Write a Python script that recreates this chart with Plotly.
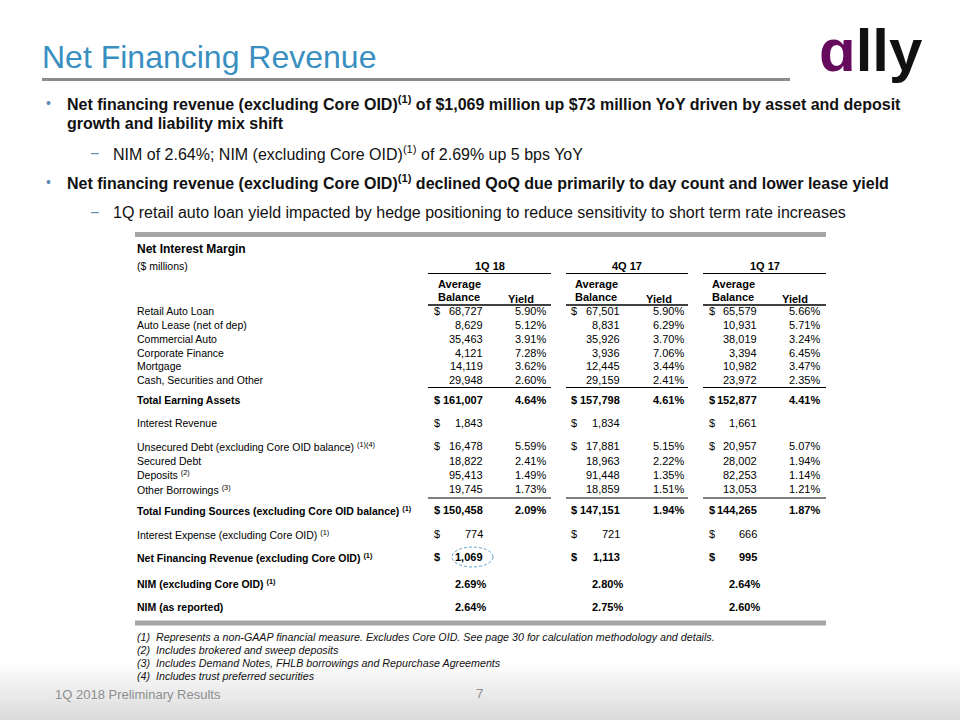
import plotly.graph_objects as go
import numpy as np

FONT = "Liberation Sans, Arial, sans-serif"

# ---------------- data ----------------
periods = ["1Q 18", "4Q 17", "1Q 17"]

asset_labels = ["Retail Auto Loan", "Auto Lease (net of dep)", "Commercial Auto",
                "Corporate Finance", "Mortgage", "Cash, Securities and Other"]
asset_bal_1q18 = [68727, 8629, 35463, 4121, 14119, 29948]
asset_bal_4q17 = [67501, 8831, 35926, 3936, 12445, 29159]
asset_bal_1q17 = [65579, 10931, 38019, 3394, 10982, 23972]
asset_yld_1q18 = [5.90, 5.12, 3.91, 7.28, 3.62, 2.60]
asset_yld_4q17 = [5.90, 6.29, 3.70, 7.06, 3.44, 2.41]
asset_yld_1q17 = [5.66, 5.71, 3.24, 6.45, 3.47, 2.35]

total_assets = [161007, 157798, 152877]
total_assets_yld = [4.64, 4.61, 4.41]
interest_revenue = [1843, 1834, 1661]

liab_labels = ["Unsecured Debt (excluding Core OID balance) <sup>(1)(4)</sup>",
               "Secured Debt", "Deposits <sup>(2)</sup>", "Other Borrowings <sup>(3)</sup>"]
liab_bal_1q18 = [16478, 18822, 95413, 19745]
liab_bal_4q17 = [17881, 18963, 91448, 18859]
liab_bal_1q17 = [20957, 28002, 82253, 13053]
liab_yld_1q18 = [5.59, 2.41, 1.49, 1.73]
liab_yld_4q17 = [5.15, 2.22, 1.35, 1.51]
liab_yld_1q17 = [5.07, 1.94, 1.14, 1.21]

total_funding = [150458, 147151, 144265]
total_funding_yld = [2.09, 1.94, 1.87]
interest_expense = [774, 721, 666]
net_fin_rev = [1069, 1113, 995]
nim_ex_core = [2.69, 2.80, 2.64]
nim_reported = [2.64, 2.75, 2.60]

asset_bal = [asset_bal_1q18, asset_bal_4q17, asset_bal_1q17]
asset_yld = [asset_yld_1q18, asset_yld_4q17, asset_yld_1q17]
liab_bal = [liab_bal_1q18, liab_bal_4q17, liab_bal_1q17]
liab_yld = [liab_yld_1q18, liab_yld_4q17, liab_yld_1q17]

title = "Net Financing Revenue"
bullets = [
    ("b", "Net financing revenue (excluding Core OID)<sup>(1)</sup> of $1,069 million up $73 million YoY driven by asset and deposit"),
    ("c", "growth and liability mix shift"),
    ("s", "NIM of 2.64%; NIM (excluding Core OID)<sup>(1)</sup> of 2.69% up 5 bps YoY"),
    ("b", "Net financing revenue (excluding Core OID)<sup>(1)</sup> declined QoQ due primarily to day count and lower lease yield"),
    ("s", "1Q retail auto loan yield impacted by hedge positioning to reduce sensitivity to short term rate increases"),
]
footnotes = [
    "(1)  Represents a non-GAAP financial measure. Excludes Core OID. See page 30 for calculation methodology and details.",
    "(2)  Includes brokered and sweep deposits",
    "(3)  Includes Demand Notes, FHLB borrowings and Repurchase Agreements",
    "(4)  Includes trust preferred securities",
]
footer_left = "1Q 2018 Preliminary Results"
page_no = "7"

# ---------------- layout geometry ----------------
dollar_x = [432, 569, 707]
bal_right = [485, 622, 759]
yld_right = [548, 686, 822]
hdr_line = [(428, 551), (566, 688), (703, 826)]
label_x = 137
TS = 11      # numbers
LS = 10.5    # row labels

ann = []
shapes = []


def txt(x, y, s, size=TS, anchor="left", color="#000000", bold=False, italic=False, family=FONT):
    if bold:
        s = "<b>" + s + "</b>"
    if italic:
        s = "<i>" + s + "</i>"
    ann.append(dict(x=x, y=y, xref="x", yref="y", text=s, showarrow=False,
                    xanchor=anchor, yanchor="middle",
                    font=dict(family=family, size=size, color=color)))


def hline(x0, x1, y, color="#000000", width=1):
    shapes.append(dict(type="line", xref="x", yref="y", x0=x0, x1=x1, y0=y, y1=y,
                       line=dict(color=color, width=width)))


# bottom gradient band
grad_y = np.linspace(660, 720, 30)
for k in range(len(grad_y) - 1):
    t = k / (len(grad_y) - 2)
    g = int(round(255 - t * 36))
    shapes.append(dict(type="rect", xref="x", yref="y", x0=0, x1=960,
                       y0=grad_y[k], y1=grad_y[k + 1] + 0.5,
                       fillcolor=f"rgb({g},{g},{g})", line=dict(width=0), layer="below"))

# title + rule
txt(40, 57, title, size=32, color="#3A8FC1")
hline(42, 790, 79.5, color="#8C8C8C", width=3)

# logo
ann.append(dict(x=871, y=50, xref="x", yref="y", showarrow=False, xanchor="center", yanchor="middle",
                text="<b><span style='color:#650A5D'>ɑ</span>lly</b>",
                font=dict(family="Liberation Sans, Arial, sans-serif", size=60, color="#111111")))

# bullets
bullet_y = [103, 123.5, 153, 182, 212]
for (kind, s), y in zip(bullets, bullet_y):
    if kind == "b":
        txt(44, y, "•", size=14, color="#5B8DB8")
        txt(65, y, s, size=16, bold=True, color="#111111")
    elif kind == "c":
        txt(65, y, s, size=16, bold=True, color="#111111")
    else:
        txt(88, y, "−", size=16, color="#5B8DB8")
        txt(111, y, s, size=16, color="#111111")

# table frame bars
shapes.append(dict(type="rect", xref="x", yref="y", x0=135, x1=826, y0=232, y1=237,
                   fillcolor="#A6A6A6", line=dict(width=0)))
shapes.append(dict(type="rect", xref="x", yref="y", x0=135, x1=826, y0=620.5, y1=625.5,
                   fillcolor="#A6A6A6", line=dict(width=0)))

txt(label_x - 2, 249, "Net Interest Margin", size=12, bold=True)
txt(label_x - 2, 265.5, "($ millions)", size=LS)

# column headers
for i, p in enumerate(periods):
    x0, x1 = hdr_line[i]
    txt((x0 + x1) / 2, 265.5, p, bold=True, anchor="center")
    hline(x0, x1, 273.5, width=1)
    txt(bal_right[i] - 26, 283.5, "Average", bold=True, anchor="center")
    txt(bal_right[i] - 26, 297, "Balance", bold=True, anchor="center")
    txt(yld_right[i] - 27, 298.5, "Yield", bold=True, anchor="center")
    hline(x0, x1, 305, width=1.3)


def money(v):
    return f"{v:,}"


def pct(v):
    return f"{v:.2f}%"


lx = label_x - 2

# asset rows
asset_y = [311, 325, 338.7, 352.5, 366.2, 380]
for r, lab in enumerate(asset_labels):
    txt(lx, asset_y[r], lab, size=LS)
    for i in range(3):
        if r == 0:
            txt(dollar_x[i], asset_y[r], "$")
        txt(bal_right[i], asset_y[r], money(asset_bal[i][r]), anchor="right")
        txt(yld_right[i], asset_y[r], pct(asset_yld[i][r]), anchor="right")
for i in range(3):
    hline(hdr_line[i][0], hdr_line[i][1], 387.5, width=1)

y_tot_a = 400
txt(lx, y_tot_a, "Total Earning Assets", size=LS, bold=True)
for i in range(3):
    txt(dollar_x[i], y_tot_a, "$", bold=True)
    txt(bal_right[i], y_tot_a, money(total_assets[i]), anchor="right", bold=True)
    txt(yld_right[i], y_tot_a, pct(total_assets_yld[i]), anchor="right", bold=True)

y_ir = 423
txt(lx, y_ir, "Interest Revenue", size=LS)
for i in range(3):
    txt(dollar_x[i], y_ir, "$")
    txt(bal_right[i], y_ir, money(interest_revenue[i]), anchor="right")

liab_y = [446, 460.5, 474.8, 489]
for r, lab in enumerate(liab_labels):
    txt(lx, liab_y[r], lab, size=LS)
    for i in range(3):
        if r == 0:
            txt(dollar_x[i], liab_y[r], "$")
        txt(bal_right[i], liab_y[r], money(liab_bal[i][r]), anchor="right")
        txt(yld_right[i], liab_y[r], pct(liab_yld[i][r]), anchor="right")
for i in range(3):
    hline(hdr_line[i][0], hdr_line[i][1], 498, width=1)

y_tf = 510
txt(lx, y_tf, "Total Funding Sources (excluding Core OID balance) <sup>(1)</sup>", size=LS, bold=True)
for i in range(3):
    txt(dollar_x[i], y_tf, "$", bold=True)
    txt(bal_right[i], y_tf, money(total_funding[i]), anchor="right", bold=True)
    txt(yld_right[i], y_tf, pct(total_funding_yld[i]), anchor="right", bold=True)

y_ie = 534
txt(lx, y_ie, "Interest Expense (excluding Core OID) <sup>(1)</sup>", size=LS)
for i in range(3):
    txt(dollar_x[i], y_ie, "$")
    txt(bal_right[i], y_ie, money(interest_expense[i]), anchor="right")

y_nfr = 557
txt(lx, y_nfr, "Net Financing Revenue (excluding Core OID) <sup>(1)</sup>", size=LS, bold=True)
for i in range(3):
    txt(dollar_x[i], y_nfr, "$", bold=True)
    txt(bal_right[i], y_nfr, money(net_fin_rev[i]), anchor="right", bold=True)

# dashed highlight around current-quarter net financing revenue
shapes.append(dict(type="circle", xref="x", yref="y",
                   x0=bal_right[0] - 33, x1=bal_right[0] + 8, y0=y_nfr - 10, y1=y_nfr + 10,
                   line=dict(color="#5AA0CC", width=1, dash="3px,2px")))

y_nim1 = 583.5
txt(lx, y_nim1, "NIM (excluding Core OID) <sup>(1)</sup>", size=LS, bold=True)
y_nim2 = 607
txt(lx, y_nim2, "NIM (as reported)", size=LS, bold=True)
for i in range(3):
    txt(bal_right[i] + 3, y_nim1, pct(nim_ex_core[i]), anchor="right", bold=True)
    txt(bal_right[i] + 3, y_nim2, pct(nim_reported[i]), anchor="right", bold=True)

# footnotes
foot_y = [637, 650, 663, 676]
for s, y in zip(footnotes, foot_y):
    txt(135, y, s, size=10.7, italic=True, color="#111111")

txt(53, 694, footer_left, size=13, color="#8E8E8E")
txt(480, 693, page_no, size=13.5, color="#8E8E8E", anchor="center")

fig = go.Figure()
fig.update_layout(
    width=960, height=720,
    margin=dict(l=0, r=0, t=0, b=0),
    paper_bgcolor="white", plot_bgcolor="white",
    xaxis=dict(range=[0, 960], visible=False, fixedrange=True),
    yaxis=dict(range=[720, 0], visible=False, fixedrange=True),
    annotations=ann, shapes=shapes, showlegend=False,
)
fig.write_html("out.html", config={"displayModeBar": False, "staticPlot": True},
               post_script="document.body.style.margin='0px';")
